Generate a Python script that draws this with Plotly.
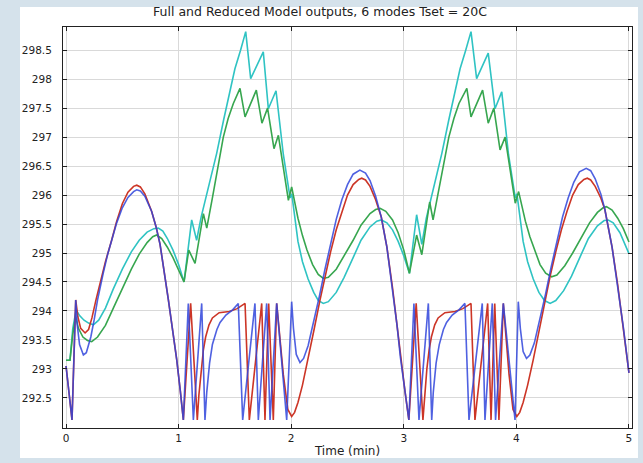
import plotly.graph_objects as go

# ---- data ----
cyan_t = [0.000, 0.035, 0.060, 0.090, 0.120, 0.160, 0.200, 0.243, 0.290, 0.350, 0.420, 0.500,
          0.580, 0.650, 0.720, 0.780, 0.820, 0.860, 0.900, 0.950, 1.000, 1.048, 1.116, 1.160,
          1.200, 1.250, 1.300, 1.338, 1.400, 1.456, 1.500, 1.550, 1.596, 1.640, 1.752, 1.797,
          1.865, 1.930, 1.990, 2.005, 2.060, 2.100, 2.150, 2.200, 2.240, 2.285, 2.330, 2.400,
          2.470, 2.550, 2.620, 2.700, 2.760, 2.800, 2.850, 2.900, 2.950, 3.000, 3.050, 3.114,
          3.160, 3.200, 3.250, 3.300, 3.338, 3.400, 3.456, 3.500, 3.550, 3.597, 3.647, 3.750,
          3.810, 3.870, 3.930, 3.990, 4.005, 4.060, 4.100, 4.150, 4.200, 4.250, 4.300, 4.350,
          4.420, 4.490, 4.570, 4.640, 4.720, 4.780, 4.816, 4.860, 4.920, 4.960, 5.000]
cyan_v = [293.15, 293.15, 293.70, 294.02, 293.92, 293.84, 293.79, 293.76, 293.84, 294.05, 294.38, 294.72,
          295.02, 295.22, 295.36, 295.42, 295.43, 295.38, 295.25, 295.05, 294.80, 294.50, 295.57, 295.22,
          295.62, 296.00, 296.40, 296.72, 297.30, 297.80, 298.18, 298.50, 298.82, 298.01, 298.47, 297.49,
          297.80, 296.70, 295.95, 296.02, 295.20, 294.85, 294.55, 294.32, 294.18, 294.13, 294.16, 294.32,
          294.58, 294.92, 295.22, 295.45, 295.55, 295.57, 295.52, 295.40, 295.20, 294.95, 294.65, 295.66,
          295.15, 295.60, 296.00, 296.40, 296.72, 297.30, 297.80, 298.18, 298.50, 298.82, 298.01, 298.45,
          297.49, 297.78, 296.70, 295.95, 296.02, 295.20, 294.85, 294.55, 294.32, 294.18, 294.13, 294.18,
          294.35, 294.60, 294.95, 295.25, 295.47, 295.56, 295.57, 295.52, 295.35, 295.18, 294.99]

green_t = [0.000, 0.035, 0.060, 0.085, 0.110, 0.150, 0.190, 0.228, 0.280, 0.350, 0.420, 0.500,
           0.580, 0.650, 0.720, 0.770, 0.805, 0.850, 0.900, 0.950, 1.000, 1.048, 1.090, 1.146,
           1.220, 1.250, 1.300, 1.350, 1.397, 1.440, 1.486, 1.545, 1.590, 1.690, 1.740, 1.790,
           1.847, 1.886, 1.975, 2.004, 2.060, 2.100, 2.140, 2.190, 2.240, 2.285, 2.330, 2.400,
           2.470, 2.550, 2.620, 2.700, 2.750, 2.790, 2.840, 2.900, 2.950, 3.000, 3.050, 3.114,
           3.160, 3.230, 3.260, 3.310, 3.360, 3.400, 3.445, 3.490, 3.560, 3.597, 3.700, 3.750,
           3.800, 3.855, 3.900, 3.990, 4.020, 4.080, 4.120, 4.160, 4.210, 4.260, 4.313, 4.360,
           4.430, 4.500, 4.580, 4.650, 4.720, 4.770, 4.800, 4.850, 4.900, 4.950, 5.000]
green_v = [293.15, 293.15, 293.60, 293.90, 293.70, 293.55, 293.49, 293.47, 293.55, 293.75, 294.05, 294.40,
           294.72, 294.98, 295.18, 295.28, 295.31, 295.25, 295.10, 294.92, 294.72, 294.50, 295.05, 294.82,
           295.68, 295.43, 295.95, 296.50, 297.00, 297.32, 297.58, 297.84, 297.35, 297.81, 297.24, 297.50,
           296.80, 297.03, 295.91, 296.14, 295.60, 295.30, 295.05, 294.80, 294.63, 294.56, 294.58, 294.72,
           294.95, 295.22, 295.48, 295.68, 295.75, 295.77, 295.72, 295.57, 295.35, 295.05, 294.65, 295.31,
           294.97, 295.88, 295.57, 296.07, 296.58, 297.00, 297.32, 297.58, 297.84, 297.35, 297.81, 297.24,
           297.50, 296.78, 297.00, 295.86, 296.06, 295.55, 295.28, 295.05, 294.80, 294.65, 294.59, 294.62,
           294.78, 295.00, 295.28, 295.52, 295.70, 295.78, 295.80, 295.74, 295.60, 295.42, 295.19]

red_t = [0.000, 0.025, 0.053, 0.086, 0.105, 0.130, 0.169, 0.200, 0.230, 0.266, 0.300, 0.350,
         0.405, 0.450, 0.500, 0.550, 0.600, 0.628, 0.660, 0.700, 0.760, 0.800, 0.835, 0.870,
         0.909, 0.950, 0.983, 1.015, 1.042, 1.107, 1.166, 1.180, 1.200, 1.220, 1.240, 1.270,
         1.300, 1.360, 1.450, 1.520, 1.590, 1.628, 1.738, 1.767, 1.800, 1.841, 1.871, 1.930,
         1.970, 2.004, 2.030, 2.060, 2.100, 2.150, 2.200, 2.256, 2.300, 2.350, 2.400, 2.450,
         2.500, 2.550, 2.600, 2.626, 2.660, 2.700, 2.750, 2.800, 2.850, 2.900, 2.940, 2.970,
         3.010, 3.045, 3.110, 3.170, 3.185, 3.205, 3.225, 3.245, 3.275, 3.305, 3.365, 3.455,
         3.525, 3.597, 3.632, 3.745, 3.775, 3.808, 3.845, 3.884, 3.935, 3.970, 4.004, 4.030,
         4.060, 4.100, 4.150, 4.200, 4.256, 4.300, 4.350, 4.400, 4.450, 4.500, 4.550, 4.600,
         4.630, 4.660, 4.700, 4.750, 4.786, 4.850, 4.900, 4.950, 5.000]
red_v = [293.05, 292.55, 292.12, 294.19, 293.90, 293.70, 293.62, 293.68, 293.88, 294.19, 294.48, 294.85,
         295.22, 295.55, 295.85, 296.05, 296.15, 296.17, 296.14, 296.02, 295.72, 295.45, 295.15, 294.72,
         294.19, 293.62, 293.16, 292.62, 292.12, 294.13, 292.12, 292.55, 293.00, 293.33, 293.55, 293.76,
         293.88, 293.97, 293.99, 294.04, 294.13, 292.12, 294.13, 292.12, 294.13, 292.12, 294.13, 292.90,
         292.30, 292.18, 292.25, 292.42, 292.72, 293.16, 293.65, 294.19, 294.60, 295.02, 295.40, 295.72,
         296.00, 296.18, 296.27, 296.29, 296.26, 296.15, 295.92, 295.62, 295.10, 294.40, 293.75, 293.20,
         292.62, 292.12, 294.13, 292.12, 292.55, 293.00, 293.33, 293.55, 293.76, 293.88, 293.97, 293.99,
         294.04, 294.13, 292.12, 294.13, 292.12, 294.13, 292.12, 294.13, 292.90, 292.30, 292.18, 292.25,
         292.42, 292.72, 293.16, 293.65, 294.19, 294.60, 295.02, 295.40, 295.72, 296.00, 296.18, 296.27,
         296.29, 296.26, 296.15, 295.95, 295.75, 295.10, 294.45, 293.72, 292.93]

blue_t = [0.000, 0.025, 0.053, 0.086, 0.100, 0.120, 0.154, 0.180, 0.220, 0.250, 0.280, 0.330,
          0.370, 0.410, 0.450, 0.500, 0.550, 0.600, 0.628, 0.660, 0.700, 0.760, 0.800, 0.835,
          0.870, 0.909, 0.950, 0.983, 1.015, 1.042, 1.086, 1.131, 1.205, 1.234, 1.250, 1.275,
          1.300, 1.340, 1.368, 1.420, 1.480, 1.530, 1.569, 1.678, 1.708, 1.782, 1.812, 1.871,
          1.960, 2.004, 2.020, 2.045, 2.078, 2.110, 2.150, 2.200, 2.250, 2.300, 2.350, 2.400,
          2.450, 2.500, 2.550, 2.610, 2.660, 2.700, 2.750, 2.800, 2.850, 2.900, 2.940, 2.970,
          3.010, 3.045, 3.090, 3.135, 3.218, 3.248, 3.262, 3.287, 3.315, 3.352, 3.380, 3.430,
          3.490, 3.543, 3.579, 3.697, 3.721, 3.786, 3.815, 3.884, 3.988, 4.017, 4.035, 4.060,
          4.090, 4.120, 4.160, 4.210, 4.260, 4.310, 4.360, 4.410, 4.460, 4.510, 4.560, 4.620,
          4.660, 4.700, 4.750, 4.786, 4.850, 4.900, 4.950, 5.000]
blue_v = [293.05, 292.55, 292.12, 294.19, 293.75, 293.42, 293.24, 293.28, 293.55, 293.85, 294.19, 294.65,
          294.98, 295.25, 295.52, 295.78, 295.96, 296.06, 296.09, 296.07, 295.98, 295.72, 295.45, 295.15,
          294.72, 294.19, 293.62, 293.16, 292.62, 292.12, 294.13, 292.12, 294.13, 292.12, 292.60, 293.10,
          293.42, 293.68, 293.80, 293.93, 294.02, 294.13, 292.12, 294.13, 292.12, 294.13, 292.12, 294.13,
          292.12, 294.16, 293.70, 293.25, 293.11, 293.18, 293.40, 293.80, 294.25, 294.72, 295.17, 295.58,
          295.92, 296.18, 296.36, 296.43, 296.38, 296.25, 295.98, 295.62, 295.10, 294.40, 293.75, 293.20,
          292.62, 292.12, 294.13, 292.12, 294.13, 292.12, 292.60, 293.10, 293.42, 293.68, 293.80, 293.93,
          294.02, 294.13, 292.12, 294.13, 292.12, 294.13, 292.12, 294.13, 292.12, 294.16, 293.70, 293.30,
          293.18, 293.24, 293.45, 293.85, 294.30, 294.77, 295.22, 295.62, 295.95, 296.22, 296.40, 296.46,
          296.42, 296.28, 296.02, 295.75, 295.10, 294.45, 293.72, 292.93]

x_ticks = [0, 1, 2, 3, 4, 5]
y_ticks = [292.5, 293, 293.5, 294, 294.5, 295, 295.5, 296, 296.5, 297, 297.5, 298, 298.5]
y_tick_text = ["292.5", "293", "293.5", "294", "294.5", "295", "295.5", "296",
               "296.5", "297", "297.5", "298", "298.5"]

title_text = "Full and Reduced Model outputs, 6 modes Tset = 20C"
x_title = "Time (min)"

fig = go.Figure()
fig.add_trace(go.Scatter(x=cyan_t, y=cyan_v, mode="lines",
                         line=dict(color="#2fc3c3", width=1.6)))
fig.add_trace(go.Scatter(x=green_t, y=green_v, mode="lines",
                         line=dict(color="#37a64f", width=1.6)))
fig.add_trace(go.Scatter(x=red_t, y=red_v, mode="lines",
                         line=dict(color="#cc3526", width=1.6)))
fig.add_trace(go.Scatter(x=blue_t, y=blue_v, mode="lines", opacity=0.85,
                         line=dict(color="#3146dc", width=1.6)))

font_fam = "DejaVu Sans, Liberation Sans, sans-serif"

fig.update_layout(
    width=643, height=463,
    showlegend=False,
    hovermode=False,
    paper_bgcolor="#d5e2eb",
    plot_bgcolor="white",
    margin=dict(l=63, r=11, t=27, b=35, autoexpand=False),
    font=dict(family=font_fam, size=11, color="#222222"),
    title=dict(text=title_text, x=320 / 643, xanchor="center", xref="container",
               y=1 - 12 / 463, yanchor="middle", yref="container",
               font=dict(size=12.5, color="#222222")),
    shapes=[dict(type="rect", xref="paper", yref="paper", layer="below",
                 x0=-0.0756, x1=1.0105, y0=-0.0748, y1=1.05,
                 fillcolor="white", line=dict(width=0))],
)

fig.update_xaxes(
    range=[-0.027, 5.027], tickvals=x_ticks,
    showgrid=True, gridcolor="#d9d9d9", gridwidth=1,
    showline=True, linecolor="#222222", linewidth=1, mirror="ticks",
    ticks="inside", ticklen=4, tickcolor="#222222",
    tickfont=dict(size=10.5),
    zeroline=False,
    title=dict(text=x_title, standoff=4, font=dict(size=12)),
)
fig.update_yaxes(
    range=[291.98, 298.9], tickvals=y_ticks, ticktext=y_tick_text,
    showgrid=True, gridcolor="#d9d9d9", gridwidth=1,
    showline=True, linecolor="#222222", linewidth=1, mirror="ticks",
    ticks="inside", ticklen=4, tickcolor="#222222",
    tickfont=dict(size=10.5),
    zeroline=False, ticklabelstandoff=8,
)

fig.write_html("out.html", config={"displayModeBar": False},
               post_script="document.body.style.margin='0px';")
